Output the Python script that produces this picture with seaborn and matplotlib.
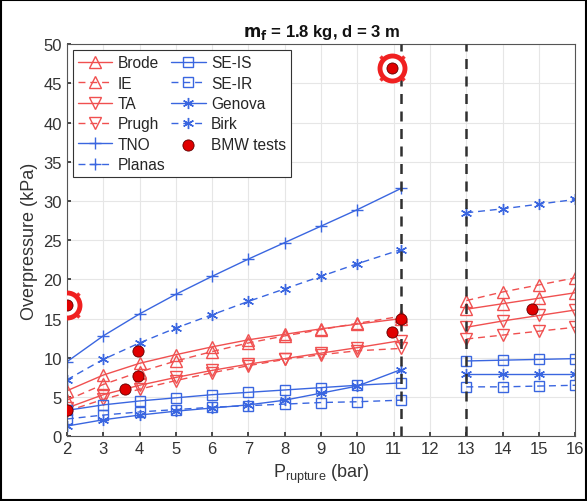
import numpy as np
import pandas as pd
import matplotlib
matplotlib.use("Agg")
import matplotlib.pyplot as plt
import seaborn as sns

sns.set_theme(style="whitegrid")
plt.rcParams['font.family'] = ['Liberation Sans', 'DejaVu Sans']

# pressure points (bar): below and above the gap
p_left = [2, 3, 4, 5, 6, 7, 8, 9, 10, 11.2]
p_right = [13, 14, 15, 16]

# overpressure (kPa) per model
brode_l = [5.8, 7.8, 9.3, 10.4, 11.4, 12.3, 13.0, 13.7, 14.3, 15.0]
brode_r = [16.2, 16.9, 17.6, 18.3]
ie_l = [4.6, 6.6, 8.2, 9.6, 10.8, 11.9, 12.8, 13.6, 14.4, 15.3]
ie_r = [17.3, 18.4, 19.3, 20.2]
ta_l = [3.6, 5.3, 6.5, 7.5, 8.4, 9.2, 9.9, 10.6, 11.3, 12.2]
ta_r = [13.9, 14.7, 15.4, 16.1]
prugh_l = [3.2, 4.7, 6.0, 7.1, 8.1, 9.0, 9.8, 10.4, 10.9, 11.2]
prugh_r = [12.4, 12.9, 13.4, 13.9]
tno_l = [9.5, 12.8, 15.6, 18.1, 20.4, 22.6, 24.7, 26.8, 28.9, 31.6]
tno_r = []
planas_l = []
planas_r = []
seis_l = [3.3, 4.0, 4.5, 4.9, 5.3, 5.6, 5.9, 6.2, 6.5, 6.8]
seis_r = [9.6, 9.7, 9.8, 9.9]
seir_l = [2.2, 2.7, 3.1, 3.4, 3.7, 3.9, 4.1, 4.3, 4.4, 4.6]
seir_r = [6.3, 6.3, 6.4, 6.5]
genova_l = [1.3, 2.1, 2.7, 3.2, 3.6, 4.0, 4.6, 5.5, 6.4, 8.5]
genova_r = [7.9, 7.9, 7.9, 7.9]
birk_l = [7.2, 9.8, 11.9, 13.8, 15.5, 17.2, 18.8, 20.4, 22.0, 23.8]
birk_r = [28.5, 29.0, 29.6, 30.2]

# BMW tests
bmw_p = [2, 3.6, 3.95, 3.95, 10.95, 11.2, 14.8]
bmw_op = [3.3, 6.0, 7.7, 10.9, 13.3, 15.0, 16.2]
# highlighted outliers
out_p = [2, 10.95]
out_op = [16.7, 47.0]

# regime limits (bar)
limits = [11.2, 13]

red = "#f05050"
blue = "#3a66e0"
ast = (6, 2, 0)
dash = (0, (5, 3.5))

models = [
    ("Brode", brode_l, brode_r, red, "-", "^", 9),
    ("IE", ie_l, ie_r, red, dash, "^", 9),
    ("TA", ta_l, ta_r, red, "-", "v", 9),
    ("Prugh", prugh_l, prugh_r, red, dash, "v", 9),
    ("TNO", tno_l, tno_r, blue, "-", "+", 9),
    ("Planas", planas_l, planas_r, blue, dash, "+", 9),
    ("SE-IS", seis_l, seis_r, blue, "-", "s", 7),
    ("SE-IR", seir_l, seir_r, blue, dash, "s", 7),
    ("Genova", genova_l, genova_r, blue, "-", ast, 8),
    ("Birk", birk_l, birk_r, blue, dash, ast, 8),
]

fig = plt.figure(figsize=(5.87, 5.02), dpi=100)
ax = fig.add_axes([0.114, 0.129, 0.866, 0.781])

for name, yl, yr, c, ls, m, ms in models:
    style = dict(color=c, linestyle=ls, marker=m, markersize=ms,
                 markerfacecolor="none", markeredgecolor=c, markeredgewidth=1.0,
                 linewidth=1.0)
    if len(yl):
        sns.lineplot(x=p_left, y=yl, ax=ax, label=name, **style)
    else:
        ax.plot([], [], label=name, **style)
    if len(yr):
        sns.lineplot(x=p_right, y=yr, ax=ax, **style)

for xv in limits:
    ax.axvline(xv, color="#303030", linestyle=(0, (4, 3)), linewidth=1.8, zorder=3)

# highlighted rings
ax.plot(out_p, out_op, linestyle="none", marker="x", markersize=17,
        markeredgewidth=2.5, color="#f03030", zorder=4)
ax.plot(out_p, out_op, linestyle="none", marker="o", markersize=18,
        markerfacecolor="white", markeredgecolor="#f02020",
        markeredgewidth=3.5, zorder=5)
ax.plot(out_p, out_op, linestyle="none", marker="o", markersize=8,
        markerfacecolor="#e00000", markeredgecolor="#600000",
        markeredgewidth=0.6, zorder=6)
sns.scatterplot(x=bmw_p, y=bmw_op, ax=ax, color="#e00000", edgecolor="#600000",
                linewidth=0.6, s=65, zorder=6, label="BMW tests")

ax.set_xlim(2, 16)
ax.set_ylim(0, 50)
ax.set_xticks(range(2, 17))
ax.set_yticks(range(0, 51, 5))
ax.grid(True, color="#e6e6e6", linewidth=0.8)
for s in ax.spines.values():
    s.set_color("#555555")
    s.set_linewidth(0.8)
ax.tick_params(axis="both", labelsize=12, colors="#333333", direction="in",
               length=3, bottom=True, left=True)

ax.set_title("$\\mathbf{m_f}$ = 1.8 kg, d = 3 m", fontsize=12,
             fontweight="bold", color="#111111", pad=6)
ax.set_xlabel("P$_{\\mathregular{rupture}}$ (bar)", fontsize=13, color="#333333")
ax.set_ylabel("Overpressure (kPa)", fontsize=13, color="#333333")

leg = ax.legend(loc="upper left", ncol=2, fontsize=11.2, frameon=True,
                fancybox=False, edgecolor="#333333", framealpha=1,
                handlelength=2.2, columnspacing=0.4, labelspacing=0.35,
                borderpad=0.3, handletextpad=0.35, borderaxespad=0.4)
leg.get_frame().set_linewidth(0.8)

fig.patches.append(plt.Rectangle((0.002, 0.002), 0.996, 0.996, transform=fig.transFigure,
                                 fill=False, edgecolor="black", linewidth=1.5))

plt.savefig("out.png", dpi=100)
